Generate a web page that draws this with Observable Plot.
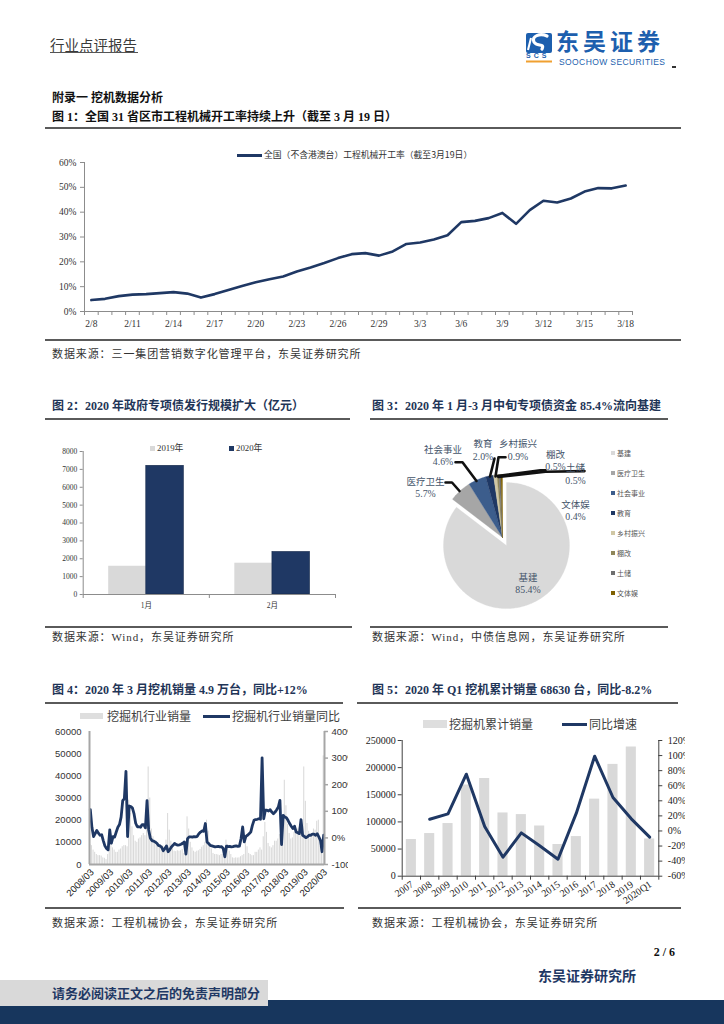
<!DOCTYPE html>
<html><head><meta charset="utf-8">
<script src="https://cdn.jsdelivr.net/npm/d3@7"></script>
<script src="https://cdn.jsdelivr.net/npm/@observablehq/plot@0.6"></script>
<style>
body{margin:0;background:#fff;}
#page{position:relative;width:724px;height:1024px;overflow:hidden;background:#fff;}
</style></head><body><div id="page"></div>
<script>
// ---------------- DATA ----------------
// Fig 1: national operating rate of construction machinery (%)
const f1Dates = ["2/8","2/9","2/10","2/11","2/12","2/13","2/14","2/15","2/16","2/17","2/18","2/19","2/20","2/21","2/22","2/23","2/24","2/25","2/26","2/27","2/28","2/29","3/1","3/2","3/3","3/4","3/5","3/6","3/7","3/8","3/9","3/10","3/11","3/12","3/13","3/14","3/15","3/16","3/17","3/18"];
const f1Rate = [4.6,5.1,6.2,6.8,7.0,7.4,7.8,7.2,5.6,7.0,8.7,10.3,11.8,13.0,14.1,16.1,17.7,19.5,21.5,23.1,23.5,22.5,24.2,27.2,27.8,29.0,30.7,36.0,36.5,37.6,39.7,35.3,40.8,44.6,43.9,45.5,48.3,49.7,49.6,50.7];
const f1YTicks = [0,10,20,30,40,50,60];
const f1Legend = "全国（不含港澳台）工程机械开工率（截至3月19日）";

// Fig 2: special bonds issuance (亿元)
const f2Months = ["1月","2月"];
const f2Y2019 = [1580,1750];
const f2Y2020 = [7200,2380];
const f2YTicks = [0,1000,2000,3000,4000,5000,6000,7000,8000];

// Fig 3: use of special bond funds (%)
const f3Names = ["基建","医疗卫生","社会事业","教育","乡村振兴","棚改","土储","文体娱"];
const f3Values = [85.4,5.7,4.6,2.0,0.9,0.5,0.5,0.4];
const f3Colors = ["#d9d9d9","#a6a6a6","#3c5d8c","#1f3864","#d0c7a4","#8f8659","#6f6f6f","#7f6000"];

// Fig 4: monthly excavator sales (units) and YoY (%), 2008/03 - 2020/03
const f4Sales = [
 9000,8500,6500,5500,4500,4000,4000,3800,3000,2800,
 2200,4500,9000,8500,7500,6500,5500,5500,6500,7000,8000,8500,
 8500,8000,29000,23000,17000,13000,10500,10000,11500,12000,13000,14000,
 13000,17000,44000,30000,16000,12500,9500,8500,9000,8000,8000,8500,
 6000,11000,23000,15500,10500,8500,6000,5800,6200,6000,6200,6800,
 5000,7500,21500,16000,10000,7500,6000,5500,6000,6200,6800,7800,
 8500,10000,20000,15000,9500,7000,5000,4500,4500,4300,4000,4500,
 4500,3500,11000,9000,6000,4500,3000,2800,3000,2900,3000,3500,
 4000,4500,11000,8000,5000,4500,4000,4000,5500,5500,6500,7500,
 6500,12500,19000,14500,9500,8000,7500,8500,10500,10500,11500,13500,
 13500,10000,38000,26500,18000,14000,11500,12000,14500,14000,16000,16500,
 16500,16000,44000,28500,18500,15000,12000,13000,16000,15500,19500,20000,
 8000,6000,49000];
const f4Yoy = [
 106,40,5,16,28,18,10,12,-10,-30,
 -40,-45,30,-20,5,3,22,40,50,78,140,148,
 250,5,120,118,112,90,55,42,42,40,50,50,
 38,140,30,0,-10,-12,-15,-20,-28,-30,-35,-48,
 -40,-30,-52,-45,-34,-28,-21,-25,-27,-26,-24,-20,
 -15,-61,-3,4,4,3,5,4,6,16,22,26,
 25,54,-15,-21,-28,-30,-32,-34,-33,-32,-34,-33,
 -40,-71,-31,-33,-32,-34,-33,-31,-30,-32,-31,-3,
 41,-15,6,10,16,22,47,66,69,70,72,70,
 301,72,104,104,101,106,97,91,97,106,116,141,
 -25,85,79,76,66,54,44,35,44,22,19,16,
 69,10,6,1,4,10,10,14,14,10,16,4,
 -9,-52,10];
const f4TickLabels = ["2008/03","2009/03","2010/03","2011/03","2012/03","2013/03","2014/03","2015/03","2016/03","2017/03","2018/03","2019/03","2020/03"];
const f4LeftTicks = [0,10000,20000,30000,40000,50000,60000];
const f4RightTicks = [-100,0,100,200,300,400];

// Fig 5: annual cumulative excavator sales and YoY
const f5Years = ["2007","2008","2009","2010","2011","2012","2013","2014","2015","2016","2017","2018","2019","2020Q1"];
const f5Sales = [67600,78600,97000,168000,180000,116500,113500,92500,58400,73000,142000,206000,238000,68630];
const f5Yoy = [null,15.6,22.7,75.3,5.9,-34.8,-2.5,-19.7,-37.5,23.6,99.2,44.4,16.1,-8.2];
const f5LeftTicks = [0,50000,100000,150000,200000,250000];
const f5RightTicks = [-60,-40,-20,0,20,40,60,80,100,120];

// ---------------- HELPERS ----------------
const NAVY = "#1f3864";
const BAR = "#d9d9d9";
const SERIF = '"Liberation Serif","Noto Sans CJK SC",serif';
const SANS = '"Liberation Sans","Noto Sans CJK SC",sans-serif';
const CJK = '"Noto Sans CJK SC",sans-serif';
const page = document.getElementById("page");
function box(css){const d=document.createElement("div");d.style.position="absolute";Object.assign(d.style,css);page.appendChild(d);return d;}
function txt(s,x,yc,size,css={},anchor="start"){
  const d=box(Object.assign({top:(yc-size*0.6)+"px",fontSize:size+"px",lineHeight:(size*1.2)+"px",whiteSpace:"nowrap",fontFamily:SERIF,color:"#222"},css));
  if(anchor==="end") d.style.right=(724-x)+"px"; else d.style.left=x+"px";
  d.textContent=s; return d;
}
function hline(x1,x2,y,h=2,c="#5a5a5a"){box({left:x1+"px",top:(y-h/2)+"px",width:(x2-x1)+"px",height:h+"px",background:c});}
function place(node,left,top,parent=page){node.style.position="absolute";node.style.left=left+"px";node.style.top=top+"px";parent.appendChild(node);}
const baseStyle = (ff,fs)=>({background:"transparent",overflow:"visible",fontFamily:ff,fontSize:fs,color:"#333"});
const SRC = {color:"#333",letterSpacing:"0.9px"};

// ---------------- PAGE CHROME ----------------
txt("行业点评报告",50,45,14.5,{fontFamily:CJK,color:"#3a3a3a"});
hline(50,138,52.5,1,"#555");
// logo
box({left:"518px",top:"27px",width:"40px",height:"40px"}).innerHTML =
 `<svg width="40" height="40" xmlns="http://www.w3.org/2000/svg">
   <rect x="8" y="6" width="26" height="20" rx="2" fill="#1d5fae"/>
   <path d="M29 9 C22 6,13 9,16 15 C19 20,27 16,24 22" stroke="#fff" stroke-width="3.2" fill="none" stroke-linecap="round"/>
   <path d="M13 11 L10 23" stroke="#fff" stroke-width="2" fill="none"/>
   <rect x="8" y="33.5" width="26" height="2" fill="#f0a030"/>
  </svg>`;
txt("SCS",526,56.5,7,{fontFamily:'"Liberation Sans"',fontWeight:"bold",color:"#1d5fae",letterSpacing:"3px"});
txt("东吴证券",556,42,23,{fontFamily:CJK,fontWeight:"bold",color:"#1d5fae",letterSpacing:"4px",lineHeight:"23px",top:"29px"});
txt("SOOCHOW SECURITIES",559,62.1,8.5,{fontFamily:'"Liberation Sans"',color:"#1d5fae",letterSpacing:"0.4px"});
hline(672,676,67,1.2,"#333");

txt("附录一 挖机数据分析",52,98,12,{fontWeight:"bold",color:"#111"});
txt("图 1：全国 31 省区市工程机械开工率持续上升（截至 3 月 19 日）",52,117,12,{fontWeight:"bold",color:"#111"});
hline(45,681,128);
hline(45,681,340);
txt("数据来源：三一集团营销数字化管理平台，东吴证券研究所",52,355,11,SRC);

const TC = "#1f3557";
txt("图 2：2020 年政府专项债发行规模扩大（亿元）",52,406,12,{fontWeight:"bold",color:TC});
txt("图 3：2020 年 1 月-3 月中旬专项债资金 85.4%流向基建",372,406,12,{fontWeight:"bold",color:TC});
hline(45,350,419);
hline(370,668,419);
hline(45,352,627);
hline(370,668,627);
txt("数据来源：Wind，东吴证券研究所",52,638,11,SRC);
txt("数据来源：Wind，中债信息网，东吴证券研究所",372,638,11,SRC);

txt("图 4：2020 年 3 月挖机销量 4.9 万台，同比+12%",52,690,12,{fontWeight:"bold",color:TC});
txt("图 5：2020 年 Q1 挖机累计销量 68630 台，同比-8.2%",372,690,12,{fontWeight:"bold",color:TC});
hline(45,343,703);
hline(357,678,703);
hline(45,344,908);
hline(358,681,908);
txt("数据来源：工程机械协会，东吴证券研究所",52,924,11,SRC);
txt("数据来源：工程机械协会，东吴证券研究所",372,924,11,SRC);

txt("2 / 6",675,952,12,{fontWeight:"bold",color:"#111"},"end");
txt("东吴证券研究所",538,975,14,{fontWeight:"bold",color:NAVY,fontFamily:CJK});
box({left:"0px",top:"1000px",width:"724px",height:"24px",background:"#17365d"});
box({left:"0px",top:"980px",width:"268px",height:"26px",background:"#d9d9d9"});
txt("请务必阅读正文之后的免责声明部分",52,992.5,13,{fontWeight:"bold",color:NAVY,fontFamily:CJK});

// ---------------- FIG 1 ----------------
(function(){
  const W=660,H=200,ml=84,mr=28,mt=22,mb=29,AX="#8c8c8c";
  const n=f1Dates.length, x0=-0.5, x1=n-0.5;
  const ux=(x1-x0)/(W-ml-mr), uy=0.6/(H-mt-mb);
  const rows=f1Dates.map((d,i)=>({i,v:f1Rate[i]/100}));
  const yt=f1YTicks.map(t=>t/100);
  const bounds=d3.range(n+1).map(i=>i-0.5);
  const lab=d3.range(0,n,3);
  const svg=Plot.plot({width:W,height:H,marginLeft:ml,marginRight:mr,marginTop:mt,marginBottom:mb,
    x:{domain:[x0,x1],axis:null},y:{domain:[0,0.6],axis:null},
    style:baseStyle(SERIF,"9.5px"),
    marks:[
      Plot.ruleX(bounds,{x:d=>d,y1:()=>0,y2:()=>-4*uy,stroke:AX}),
      Plot.ruleY(yt,{y:d=>d,x1:()=>x0-4*ux,x2:()=>x0,stroke:AX}),
      Plot.ruleY([0],{y:d=>d,x1:()=>x0,x2:()=>x1,stroke:AX}),
      Plot.ruleX([x0],{x:d=>d,y1:()=>0,y2:()=>0.6,stroke:AX}),
      Plot.text(yt,{x:()=>x0,y:d=>d,text:(d,i)=>f1YTicks[i]+"%",textAnchor:"end",dx:-8,fill:"#333"}),
      Plot.text(lab,{x:d=>d,y:()=>0,text:d=>f1Dates[d],dy:12,fill:"#333"}),
      Plot.line(rows,{x:"i",y:"v",stroke:NAVY,strokeWidth:2.6,strokeLinejoin:"round"})
    ]});
  place(svg,0,140);
  box({left:"237px",top:"154px",width:"25px",height:"2.6px",background:NAVY});
  txt(f1Legend,264,155,8.8,{fontFamily:CJK,color:"#333"});
})();

// ---------------- FIG 2 ----------------
(function(){
  const W=350,H=180,ml=82.7,mr=15,mt=11,mb=26,AX="#8c8c8c";
  const ux=2/(W-ml-mr), uy=8000/(H-mt-mb), bw=0.298;
  const rows=f2Months.map((m,i)=>({i,m,a:f2Y2019[i],b:f2Y2020[i]}));
  const svg=Plot.plot({width:W,height:H,marginLeft:ml,marginRight:mr,marginTop:mt,marginBottom:mb,
    x:{domain:[0,2],axis:null},y:{domain:[0,8000],axis:null},
    style:baseStyle(SERIF,"7.5px"),
    marks:[
      Plot.rectY(rows,{x1:d=>d.i+0.5-bw,x2:d=>d.i+0.5,y:"a",fill:BAR}),
      Plot.rectY(rows,{x1:d=>d.i+0.5,x2:d=>d.i+0.5+bw,y:"b",fill:NAVY,stroke:"#14284a",strokeWidth:0.6}),
      Plot.ruleY([0],{y:d=>d,x1:()=>0,x2:()=>2,stroke:AX}),
      Plot.ruleX([0],{x:d=>d,y1:()=>0,y2:()=>8000,stroke:AX}),
      Plot.ruleY(f2YTicks,{y:d=>d,x1:()=>-3*ux,x2:()=>0,stroke:AX}),
      Plot.ruleX([0,1,2],{x:d=>d,y1:()=>0,y2:()=>-4*uy,stroke:AX}),
      Plot.text(f2YTicks,{x:()=>0,y:d=>d,text:d=>String(d),textAnchor:"end",dx:-6,fill:"#333"}),
      Plot.text(rows,{x:d=>d.i+0.5,y:()=>0,text:"m",dy:11,fill:"#333"})
    ]});
  place(svg,0,440);
  box({left:"150px",top:"445.5px",width:"5px",height:"5px",background:BAR});
  txt("2019年",157,448,8.8,{color:"#333"});
  box({left:"229px",top:"445.5px",width:"5px",height:"5px",background:NAVY});
  txt("2020年",236,448,8.8,{color:"#333"});
})();

// ---------------- FIG 3 ----------------
(function(){
  const W=240,H=200, cx=132, cy=112, R=63, explode=9;
  const arcs=d3.pie().sort(null).value(d=>d)(f3Values);
  const polys=arcs.map((a,k)=>{
    const mid=(a.startAngle+a.endAngle)/2;
    const ox=k===0?explode*Math.sin(mid):0, oy=k===0?-explode*Math.cos(mid):0;
    const pts=[{x:cx+ox,y:cy+oy}];
    const n=Math.max(2,Math.ceil((a.endAngle-a.startAngle)/0.02));
    for(let j=0;j<=n;j++){const t=a.startAngle+(a.endAngle-a.startAngle)*j/n;pts.push({x:cx+ox+R*Math.sin(t),y:cy+oy-R*Math.cos(t)});}
    pts.push({x:cx+ox,y:cy+oy});
    return pts;
  });
  // label layout (name line position, value line below) in chart pixel space
  const labelPos = [[157.5,152],[55,56],[72.5,24],[112.5,18],[147.5,18],[185,29],[205,42],[205,79]];
  const valueDy = [12,12.5,12.5,13.5,13.5,12.5,13,12];
  const leaders = [
    null,
    [[75,57],[81.5,57],[89,65.5]],
    [[85,36.7],[92,36.7],[106,55.5]],
    [[124,33],[119.5,51]],
    [[135,31.7],[128,31.7],[125,51]],
    [[127,50.5],[170,44.8],[175,44.8]],
    [[128,51.5],[175,46.2],[214,45.6]],
    null
  ];
  const labels=f3Names.map((nm,k)=>({nm,val:f3Values[k].toFixed(1)+"%",x:labelPos[k][0],y:labelPos[k][1],dy:valueDy[k]}));
  const marks=polys.map((p,k)=>Plot.line(p,{x:"x",y:"y",fill:f3Colors[k],stroke:f3Colors[k],strokeWidth:0.3}));
  leaders.forEach(L=>{ if(L) marks.push(Plot.line(L.map(([x,y])=>({x,y})),{x:"x",y:"y",stroke:"#111",strokeWidth:2.6})); });
  marks.push(Plot.text(labels,{x:"x",y:"y",text:"nm",fill:"#44546a",fontFamily:CJK,fontSize:9.5}));
  marks.push(Plot.text(labels,{x:"x",y:d=>d.y+d.dy,text:"val",fill:"#44546a",fontFamily:SERIF,fontSize:9.8}));
  const svg=Plot.plot({width:W,height:H,marginLeft:0,marginRight:0,marginTop:0,marginBottom:0,
    x:{domain:[0,W],range:[0,W],axis:null},y:{domain:[0,H],range:[0,H],axis:null},
    style:baseStyle(CJK,"9.5px"),marks});
  place(svg,370,425);
  f3Names.forEach((nm,k)=>{
    const yc=452.7+20*k;
    box({left:"610.5px",top:(yc-2.2)+"px",width:"4.4px",height:"4.4px",background:f3Colors[k]});
    txt(nm,617,yc,7,{fontFamily:CJK,color:"#555"});
  });
})();

// ---------------- FIG 4 ----------------
(function(){
  const W=348,H=180,ml=89,mr=24,mt=9,mb=38,AX="#a6a6a6";
  const n=f4Sales.length, x0=-0.5, x1=n-0.5;
  const ux=(x1-x0)/(W-ml-mr);
  const toL=p=>(p+100)/500*60000;
  const rows=f4Sales.map((v,i)=>({i,v,p:f4Yoy[i]}));
  const tk=f4TickLabels.map((s,k)=>({s,i:k*12}));
  const holder=box({left:"0px",top:"722px",width:W+"px",height:H+"px",overflow:"hidden"});
  const svg=Plot.plot({width:W,height:H,marginLeft:ml,marginRight:mr,marginTop:mt,marginBottom:mb,
    x:{domain:[x0,x1],axis:null},y:{domain:[0,60000],axis:null},
    style:baseStyle(SANS,"9.5px"),
    marks:[
      Plot.rectY(rows.filter(d=>d.v!=null),{x1:d=>d.i-0.32,x2:d=>d.i+0.32,y:"v",fill:BAR}),
      Plot.line(rows,{x:"i",y:d=>toL(d.p),stroke:NAVY,strokeWidth:2.8,strokeLinejoin:"round"}),
      Plot.ruleX([x0],{x:d=>d,y1:()=>0,y2:()=>60000,stroke:AX,strokeWidth:2}),
      Plot.ruleX([x1],{x:d=>d,y1:()=>0,y2:()=>60000,stroke:AX,strokeWidth:2}),
      Plot.ruleY([0],{y:d=>d,x1:()=>x0,x2:()=>x1,stroke:AX,strokeWidth:2}),
      Plot.ruleY(f4RightTicks,{y:d=>toL(d),x1:()=>x1,x2:()=>x1+4*ux,stroke:AX,strokeWidth:1.5}),
      Plot.text(f4LeftTicks,{x:()=>x0,y:d=>d,text:d=>String(d),textAnchor:"end",dx:-8,fill:"#333",fontSize:9.5}),
      Plot.text(f4RightTicks,{x:()=>x1,y:d=>toL(d),text:d=>d+"%",textAnchor:"start",dx:7,fill:"#333",fontSize:9.5}),
      Plot.text(tk,{x:"i",y:()=>0,text:"s",rotate:-45,textAnchor:"end",dx:2,dy:6,fill:"#222",fontSize:9.5})
    ]});
  place(svg,0,0,holder);
  box({left:"80px",top:"713px",width:"23px",height:"6px",background:"#dedede"});
  txt("挖掘机行业销量",107,716,12,{fontFamily:CJK,color:"#404040"});
  box({left:"203px",top:"714.5px",width:"27px",height:"3px",background:NAVY});
  txt("挖掘机行业销量同比",232,716,12,{fontFamily:CJK,color:"#404040"});
})();

// ---------------- FIG 5 ----------------
(function(){
  const L=358,T=728,W=327,H=182,ml=43.7,mr=26.7,mt=12,mb=34.3,AX="#404040";
  const n=f5Years.length, x0=-0.5, x1=n-0.5;
  const ux=(x1-x0)/(W-ml-mr), uy=250000/(H-mt-mb);
  const toL=p=>(p+60)/180*250000;
  const rows=f5Years.map((y,i)=>({i,y,v:f5Sales[i],p:f5Yoy[i]}));
  const holder=box({left:L+"px",top:T+"px",width:W+"px",height:H+"px",overflow:"hidden"});
  const svg=Plot.plot({width:W,height:H,marginLeft:ml,marginRight:mr,marginTop:mt,marginBottom:mb,
    x:{domain:[x0,x1],axis:null},y:{domain:[0,250000],axis:null},
    style:baseStyle(SERIF,"10px"),
    marks:[
      Plot.rectY(rows,{x1:d=>d.i-0.275,x2:d=>d.i+0.275,y:"v",fill:BAR}),
      Plot.line(rows.filter(d=>d.p!=null),{x:"i",y:d=>toL(d.p),stroke:NAVY,strokeWidth:3,strokeLinejoin:"round"}),
      Plot.ruleX([x0],{x:d=>d,y1:()=>0,y2:()=>250000,stroke:AX}),
      Plot.ruleX([x1],{x:d=>d,y1:()=>0,y2:()=>250000,stroke:AX}),
      Plot.ruleY([0],{y:d=>d,x1:()=>x0,x2:()=>x1,stroke:AX}),
      Plot.ruleY(f5LeftTicks,{y:d=>d,x1:()=>x0-4*ux,x2:()=>x0,stroke:AX}),
      Plot.ruleY(f5RightTicks,{y:d=>toL(d),x1:()=>x1,x2:()=>x1+4*ux,stroke:AX}),
      Plot.ruleX(d3.range(n+1).map(i=>i-0.5),{x:d=>d,y1:()=>0,y2:()=>-4*uy,stroke:AX}),
      Plot.text(f5LeftTicks,{x:()=>x0,y:d=>d,text:d=>String(d),textAnchor:"end",dx:-6.5,fill:"#222"}),
      Plot.text(f5RightTicks,{x:()=>x1,y:d=>toL(d),text:d=>d+"%",textAnchor:"start",dx:9,fill:"#222"}),
      Plot.text(rows,{x:"i",y:()=>0,text:"y",rotate:-35,textAnchor:"end",dx:1,dy:7,fill:"#222"})
    ]});
  place(svg,0,0,holder);
  box({left:"423px",top:"720px",width:"24px",height:"8px",background:"#dedede"});
  txt("挖掘机累计销量",449,724,12,{fontFamily:CJK,color:"#404040"});
  box({left:"562px",top:"722.5px",width:"25px",height:"3px",background:NAVY});
  txt("同比增速",589,724,12,{fontFamily:CJK,color:"#404040"});
})();
</script></body></html>
